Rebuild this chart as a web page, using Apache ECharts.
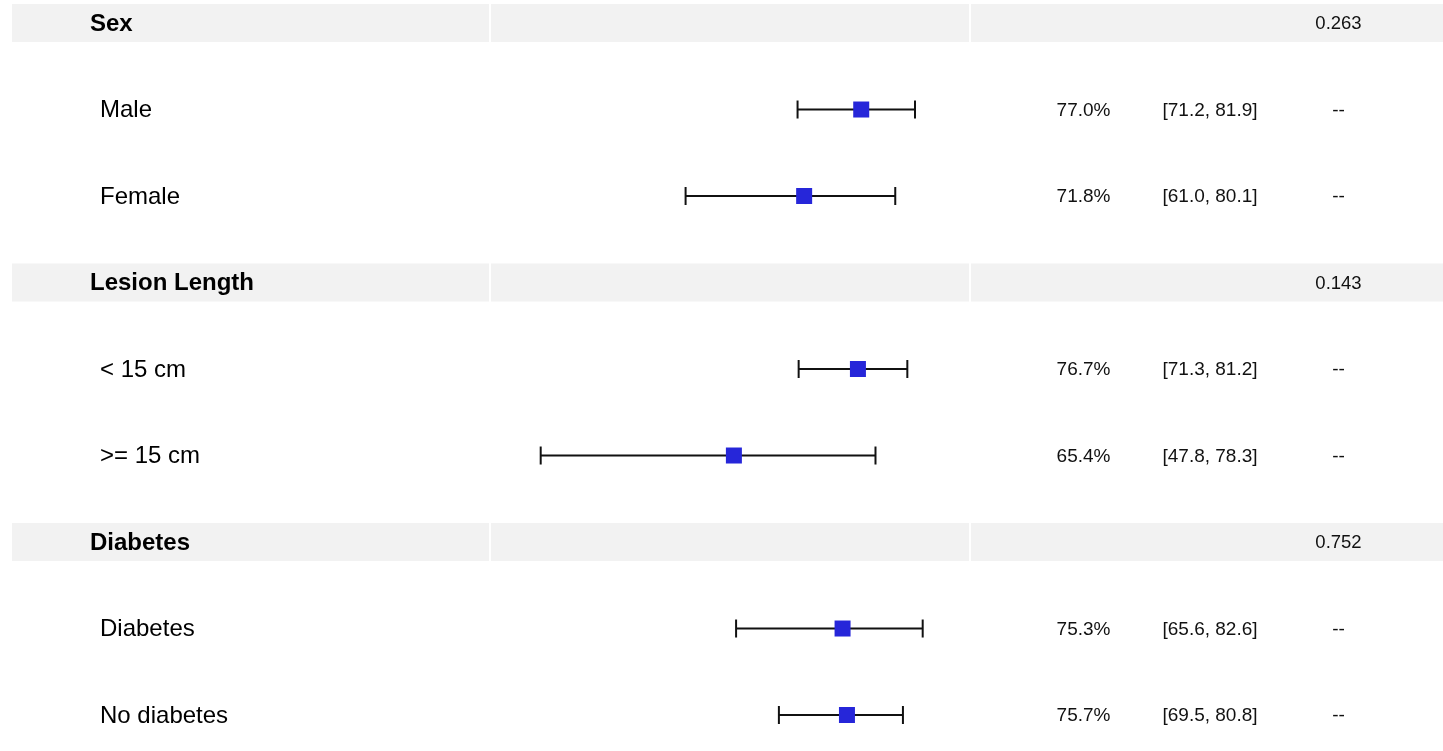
<!DOCTYPE html>
<html>
<head>
<meta charset="utf-8">
<script src="https://cdn.jsdelivr.net/npm/echarts@6/dist/echarts.min.js"></script>
<style>
html,body{margin:0;padding:0;background:#fff;}
#chart{width:1443px;height:751px;}
</style>
</head>
<body>
<div id="chart"></div>
<script>
// ---- data ----
var rowLabels = ['Sex', 'Male', 'Female', 'Lesion Length', '< 15 cm', '>= 15 cm', 'Diabetes', 'Diabetes', 'No diabetes'];
var isHeader  = [1, 0, 0, 1, 0, 0, 1, 0, 0];
var estimates = [null, 77.0, 71.8, null, 76.7, 65.4, null, 75.3, 75.7];
var lowerCI   = [null, 71.2, 61.0, null, 71.3, 47.8, null, 65.6, 69.5];
var upperCI   = [null, 81.9, 80.1, null, 81.2, 78.3, null, 82.6, 80.8];
var pValues   = ['0.263', '--', '--', '0.143', '--', '--', '0.752', '--', '--'];

var FONT = '"Liberation Sans", Arial, Helvetica, sans-serif';

var rowData = rowLabels.map(function (l, i) { return [i]; });
var ciData = [];
var ptData = [];
estimates.forEach(function (e, i) {
  if (e != null) {
    ciData.push([lowerCI[i], upperCI[i], i]);
    ptData.push([e, i]);
  }
});

var chart = echarts.init(document.getElementById('chart'), null, {renderer: 'canvas'});

var option = {
  animation: false,
  backgroundColor: '#ffffff',
  grid: {left: 16, width: 1427, top: 0, bottom: 0},
  xAxis: {type: 'value', min: 0, max: 130, show: false},
  yAxis: {type: 'value', min: -0.266, max: 8.416, inverse: true, show: false},
  series: [
    {
      // header bands and all text columns
      type: 'custom',
      data: rowData,
      z: 1,
      renderItem: function (params, api) {
        var i = api.value(0);
        var y = api.coord([0, i])[1];
        var children = [];
        if (isHeader[i]) {
          var bandH = 38;
          var segs = [[12, 489], [491, 969], [971, 1443]];
          segs.forEach(function (s) {
            children.push({type: 'rect', shape: {x: s[0], y: y - bandH / 2, width: s[1] - s[0], height: bandH},
              style: {fill: '#f2f2f2'}});
          });
          children.push({type: 'text', style: {text: rowLabels[i], x: 90, y: y + 1, textAlign: 'left', textVerticalAlign: 'middle',
            font: 'bold 24px ' + FONT, fill: '#000'}});
          children.push({type: 'text', style: {text: pValues[i], x: 1338.5, y: y + 1, textAlign: 'center', textVerticalAlign: 'middle',
            font: '18.5px ' + FONT, fill: '#111'}});
        } else {
          children.push({type: 'text', style: {text: rowLabels[i], x: 100, y: y + 1, textAlign: 'left', textVerticalAlign: 'middle',
            font: '24px ' + FONT, fill: '#000'}});
          children.push({type: 'text', style: {text: estimates[i].toFixed(1) + '%', x: 1083.5, y: y + 1, textAlign: 'center', textVerticalAlign: 'middle',
            font: '19px ' + FONT, fill: '#111'}});
          children.push({type: 'text', style: {text: '[' + lowerCI[i].toFixed(1) + ', ' + upperCI[i].toFixed(1) + ']', x: 1210, y: y + 1, textAlign: 'center', textVerticalAlign: 'middle',
            font: '19px ' + FONT, fill: '#111'}});
          children.push({type: 'text', style: {text: pValues[i], x: 1338.5, y: y + 1, textAlign: 'center', textVerticalAlign: 'middle',
            font: '19px ' + FONT, fill: '#111'}});
        }
        return {type: 'group', children: children};
      }
    },
    {
      // confidence interval whiskers
      type: 'custom',
      data: ciData,
      z: 2,
      renderItem: function (params, api) {
        var p1 = api.coord([api.value(0), api.value(2)]);
        var p2 = api.coord([api.value(1), api.value(2)]);
        var cap = 9;
        var st = {stroke: '#111', lineWidth: 2};
        return {type: 'group', children: [
          {type: 'line', shape: {x1: p1[0], y1: p1[1], x2: p2[0], y2: p2[1]}, style: st},
          {type: 'line', shape: {x1: p1[0], y1: p1[1] - cap, x2: p1[0], y2: p1[1] + cap}, style: st},
          {type: 'line', shape: {x1: p2[0], y1: p2[1] - cap, x2: p2[0], y2: p2[1] + cap}, style: st}
        ]};
      }
    },
    {
      type: 'scatter',
      data: ptData,
      z: 3,
      symbol: 'rect',
      symbolSize: 16,
      itemStyle: {color: '#2626d9', opacity: 1}
    }
  ]
};
chart.setOption(option);
</script>
</body>
</html>
